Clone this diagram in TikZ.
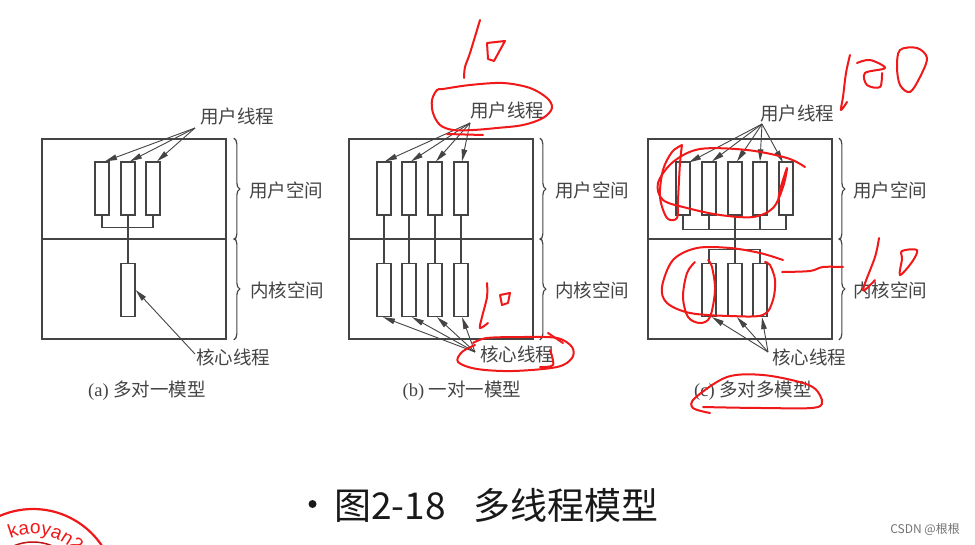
\documentclass[tikz,border=0pt]{standalone}
\usepackage{fontspec}
\setmainfont{Liberation Serif}
\setsansfont{Liberation Sans}
\newfontfamily\cjk{Noto Sans CJK SC}
\usetikzlibrary{arrows.meta,decorations.pathreplacing,decorations.text}
\definecolor{ink}{HTML}{444444}
\definecolor{pen}{HTML}{F01818}
\tikzset{
  tbox/.style={draw=ink,line width=1.3pt,fill=white,minimum width=14pt,minimum height=53pt,inner sep=0pt},
  zone/.style={draw=ink,line width=1.7pt,minimum width=184pt,minimum height=100pt,inner sep=0pt},
  lbl/.style={font=\cjk\fontsize{18.5}{19}\selectfont,text=ink,inner sep=0pt},
  captxt/.style={font=\fontsize{18.5}{19}\selectfont,text=ink,inner sep=0pt},
  wire/.style={draw=ink,line width=1.2pt},
  ptr/.style={draw=ink,line width=0.9pt,-{Stealth[length=12pt,width=5.5pt,inset=0pt]}},
  curly/.style={draw=ink,line width=1.2pt,decorate,decoration={brace,amplitude=6pt}},
  penline/.style={draw=pen,line width=2pt,line cap=round,line join=round},
  scrib/.style={penline,smooth,tension=0.55}
}
\begin{document}
\begin{tikzpicture}[x=1pt,y=-1pt]
\useasboundingbox (0,0) rectangle (975,544);
\fill[white] (0,0) rectangle (975,544);

% ---------- panel a
\node[zone] (aU) at (134,189) {};
\node[zone] (aK) at (134,289) {};
\node[tbox] (a1) at (102,188.5) {};
\node[tbox] (a2) at (128,188.5) {};
\node[tbox] (a3) at (153,188.5) {};
\node[tbox] (ak) at (128,290) {};
\path (a1.south) ++(0,12) coordinate (ajl);
\path (a3.south) ++(0,12) coordinate (ajr);
\draw[wire] (a1.south) -- (ajl) -- (ajr) -- (a3.south);
\draw[wire] (a2.south) -- (ak.north);
\node[lbl] (auser) at (237,116) {用户线程};
\node[lbl] (acore) at (233,357) {核心线程};
\coordinate (aus) at (195,128);
\coordinate (acs) at (195,354);
\draw[ptr] (aus) -- ([xshift=3pt]a1.north);
\draw[ptr] (aus) -- ([xshift=2pt]a2.north);
\draw[ptr] (aus) -- ([xshift=4pt]a3.north);
\draw[ptr] (acs) -- (ak.east);
\draw[curly] ([xshift=7pt]aU.north east) -- ([xshift=7pt]aU.south east);
\draw[curly] ([xshift=7pt]aK.north east) -- ([xshift=7pt]aK.south east);
\node[lbl] (aus2) at (286,190) {用户空间};
\node[lbl] (aks2) at (287,290) {内核空间};
\node[captxt] (acap) at (147,391) {(a) {\cjk 多对一模型}};

% ---------- panel b
\node[zone] (bU) at (441,189) {};
\node[zone] (bK) at (441,289) {};
\foreach \n/\x in {1/384,2/409,3/435,4/461}{
  \node[tbox] (bu\n) at (\x,188.5) {};
  \node[tbox] (bk\n) at (\x,290) {};
  \draw[wire] (bu\n.south) -- (bk\n.north);
}
\node[lbl] (buser) at (507,110) {用户线程};
\node[lbl] (bcore) at (517,354) {核心线程};
\coordinate (bus) at (470,123);
\coordinate (bcs) at (475,352);
\draw[ptr] (bus) -- ([xshift=1pt]bu1.north);
\draw[ptr] (bus) -- ([xshift=2pt]bu2.north);
\draw[ptr] (bus) -- ([xshift=1pt]bu3.north);
\draw[ptr] (bus) -- ([xshift=1pt]bu4.north);
\draw[ptr] (bcs) -- ([xshift=-1pt]bk1.south);
\draw[ptr] (bcs) -- ([xshift=3pt]bk2.south);
\draw[ptr] (bcs) -- ([xshift=2pt]bk3.south);
\draw[ptr] (bcs) -- ([xshift=1pt]bk4.south);
\draw[curly] ([xshift=6pt]bU.north east) -- ([xshift=6pt]bU.south east);
\draw[curly] ([xshift=6pt]bK.north east) -- ([xshift=6pt]bK.south east);
\node[lbl] (bus2) at (592,190) {用户空间};
\node[lbl] (bks2) at (592,290) {内核空间};
\node[captxt] (bcap) at (462,391) {(b) {\cjk 一对一模型}};

% ---------- panel c
\node[zone] (cU) at (740,189) {};
\node[zone] (cK) at (740,289) {};
\foreach \n/\x in {1/683,2/709,3/735,4/760,5/786}{
  \node[tbox] (cu\n) at (\x,188.5) {};
}
\foreach \n/\x in {2/709,3/735,4/760}{
  \node[tbox] (ck\n) at (\x,290) {};
}
\path (cu1.south) ++(0,14) coordinate (cjl);
\path (cu5.south) ++(0,14) coordinate (cjr);
\draw[wire] (cu1.south) -- (cjl) -- (cjr) -- (cu5.south);
\draw[wire] (cu2.south) -- (cu2.south |- cjl);
\draw[wire] (cu4.south) -- (cu4.south |- cjl);
\draw[wire] (cu3.south) -- (ck3.north);
\path (ck2.north) ++(0,-13) coordinate (ckl);
\path (ck4.north) ++(0,-13) coordinate (ckr);
\draw[wire] (ck2.north) -- (ckl) -- (ckr) -- (ck4.north);
\node[lbl] (cuser) at (797,113) {用户线程};
\node[lbl] (ccore) at (809,357) {核心线程};
\coordinate (cus) at (762,124);
\coordinate (ccs) at (768,352);
\draw[ptr] (cus) -- ([xshift=6pt,yshift=-1pt]cu1.north);
\draw[ptr] (cus) -- ([xshift=3pt]cu2.north);
\draw[ptr] (cus) -- ([xshift=2pt]cu3.north);
\draw[ptr] (cus) -- (cu4.north);
\draw[ptr] (cus) -- ([xshift=-3pt,yshift=-1pt]cu5.north);
\draw[ptr] (ccs) -- ([xshift=3pt]ck2.south);
\draw[ptr] (ccs) -- ([xshift=2pt]ck3.south);
\draw[ptr] (ccs) -- ([xshift=2pt]ck4.south);
\draw[curly] ([xshift=6pt]cU.north east) -- ([xshift=6pt]cU.south east);
\draw[curly] ([xshift=6pt]cK.north east) -- ([xshift=6pt]cK.south east);
\node[lbl] (cus2) at (890,190) {用户空间};
\node[lbl] (cks2) at (890,290) {内核空间};
\node[captxt] (ccap) at (753,391) {(c) {\cjk 多对多模型}};

% ---------- slide title and footer
\fill[black!90] (312.5,504) circle (4);
\node[anchor=west,inner sep=0pt,text=black!90,font=\cjk\fontsize{37}{39}\selectfont] (title) at (334,505) {图2-18\hspace{28pt}多线程模型};
\node[anchor=east,inner sep=0pt,text=black!55,font=\cjk\fontsize{12}{13}\selectfont] (footer) at (960,529) {CSDN @根根};

% ---------- stamp
\draw[draw=pen,line width=2.2pt] (33,592) circle (83);
\draw[draw=pen!80!black,line width=1.5pt] (33,592) circle (50);
\path[postaction={decorate},decoration={text along path,text align={left indent=0pt},
   text={|\sffamily\fontsize{19}{19}\selectfont\color{pen}|kaoyan2}}]
   (33,592) ++(-113:58) arc[start angle=-113, end angle=-5, radius=58];

% ---------- handwriting, panel b
\draw[scrib] plot coordinates {(480,20) (470,53) (465,67) (464,78)};
\draw[penline] (487,43) -- (505,41) -- (500,50) -- (494,61) -- (488,59) -- cycle;
\draw[scrib] plot[smooth cycle] coordinates {(443,89) (470,85) (503,83) (530,88) (547,98) (552,108) (543,118) (523,125) (497,128) (473,130) (453,130) (440,125) (433,113) (432,100) (437,90)};
\draw[penline] (447,134) -- (483,135);
\draw[scrib] plot coordinates {(487,283) (487,297) (482,317) (480,328) (488,323)};
\draw[penline] (500,295) -- (510,293) -- (508,303) -- (502,305) -- cycle;
\draw[scrib] plot coordinates {(473,343) (487,338) (523,337) (557,338) (572,347) (572,358) (557,367) (513,371) (477,369) (458,362) (462,352) (475,345)};
\draw[scrib] plot coordinates {(548,333) (563,343)};
\draw[scrib] plot coordinates {(550,350) (553,365) (540,367)};

% ---------- handwriting, panel c
\draw[scrib] plot coordinates {(850,55) (846,73) (843,97) (841,110) (847,102)};
\draw[scrib] plot coordinates {(857,63) (870,60) (885,68) (865,73) (867,85) (880,87) (882,73)};
\draw[scrib] plot[smooth cycle] coordinates {(900,50) (917,48) (927,58) (920,77) (910,92) (900,85) (897,67)};
\draw[scrib] plot coordinates {(805,167) (787,158) (747,150) (700,149) (673,162) (658,183) (663,200) (687,208) (720,215) (753,217) (773,208) (783,187) (787,168) (780,190) (778,202)};
\draw[scrib] plot coordinates {(682,145) (680,163) (678,200) (677,218) (667,218) (660,197) (663,170) (672,152) (682,145)};
\draw[scrib] plot coordinates {(783,260) (760,253) (730,248) (697,248) (673,260) (662,287) (667,303) (690,313) (730,316) (763,315) (773,300) (775,280) (770,265) (765,262)};
\draw[scrib] plot coordinates {(695,262) (687,273) (683,297) (688,317) (700,323) (710,317) (715,290) (712,267) (708,260)};
\draw[scrib] plot coordinates {(782,272) (810,271) (823,267) (843,267)};
\draw[scrib] plot coordinates {(879,238) (875,257) (863,290) (875,280)};
\draw[scrib] plot[smooth cycle] coordinates {(902,251) (917,250) (912,262) (900,275) (902,259)};
\draw[scrib] plot coordinates {(710,413) (693,408) (695,398) (727,377) (763,375) (803,383) (818,392) (818,407) (763,408) (703,407)};
\end{tikzpicture}
\end{document}
